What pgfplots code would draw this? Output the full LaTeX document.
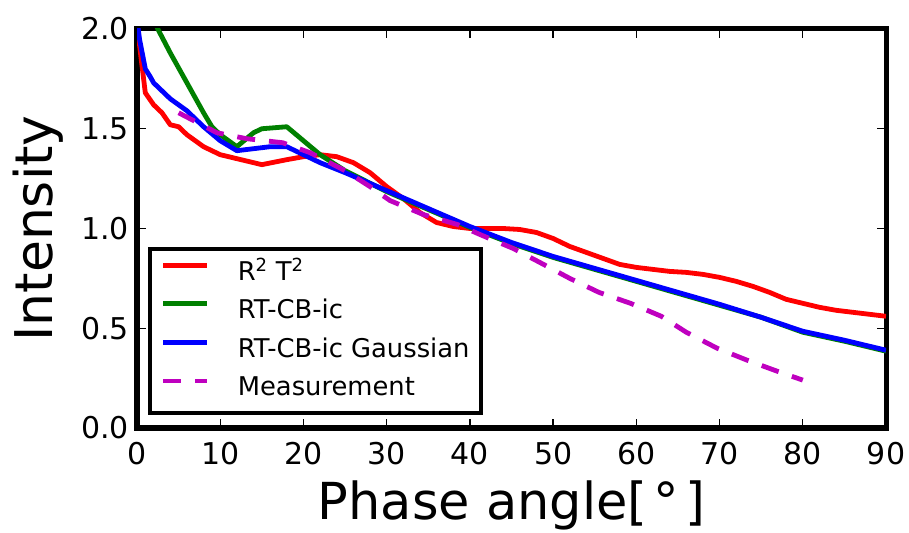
\documentclass[border=0pt]{standalone}
\usepackage{fontspec}
\setmainfont{DejaVu Sans}
\usepackage{pgfplots}
\pgfplotsset{compat=1.18}
\definecolor{mred}{rgb}{1,0,0}
\definecolor{mgreen}{rgb}{0,0.5,0}
\definecolor{mblue}{rgb}{0,0,1}
\definecolor{mmag}{rgb}{0.75,0,0.75}
\begin{document}
\begin{tikzpicture}
\useasboundingbox (0,0) rectangle (909bp,533bp);
\begin{axis}[
  at={(137bp,105bp)}, anchor=south west,
  scale only axis, width=749bp, height=399bp,
  xmin=0, xmax=90, ymin=0, ymax=2,
  xtick={0,10,...,90},
  xticklabels={0,10,20,30,40,50,60,70,80,90},
  ytick={0,0.5,1,1.5,2},
  yticklabels={0.0,0.5,1.0,1.5,2.0},
  tick align=inside,
  major tick length=9bp,
  every tick/.style={black, line width=1.3bp},
  axis line style={line width=5bp, black},
  ticklabel style={font=\fontsize{30bp}{36bp}\selectfont},
  xticklabel style={anchor=base, yshift=-36bp, inner sep=0bp},
  yticklabel style={anchor=east, xshift=-8bp, inner sep=0bp},
  every axis x label/.style={at={([yshift=-91bp]rel axis cs:0.5,0)}, anchor=base, font=\fontsize{51bp}{60bp}\selectfont},
  every axis y label/.style={at={([xshift=-84bp]rel axis cs:0,0.5)}, rotate=90, anchor=base, font=\fontsize{52bp}{60bp}\selectfont},
  xlabel={Phase angle[\hspace{0.12em}°\hspace{0.12em}]},
  ylabel={Intensity},
  legend cell align=left,
  legend image code/.code={\draw[#1] (0bp,8bp) -- (44bp,8bp);},
  legend style={at={(0.0147,0.0326)}, anchor=south west, draw=black, line width=4bp, fill=white,
    font=\fontsize{25.8bp}{30bp}\selectfont,
    inner xsep=11bp, inner ysep=12bp,
    nodes={inner sep=0bp, text height=19bp, text depth=5bp},
    row sep=14.6bp, column sep=28bp},
]
\addplot[mred, line width=4.8bp, line join=round] coordinates {
(0,2.03) (0.5,1.85) (1,1.68) (2,1.62) (3,1.58) (4,1.52) (5,1.51) (6,1.47) (8,1.41)
(10,1.37) (12,1.35) (15,1.32) (18,1.345) (20,1.36) (22,1.37) (24,1.36) (26,1.33)
(28,1.28) (30,1.21) (32,1.15) (34,1.08) (36,1.03) (38,1.01) (40,1.0) (42,1.0)
(44,1.0) (46,0.995) (48,0.98) (50,0.95) (52,0.91) (54,0.88) (56,0.85) (58,0.82)
(60,0.805) (62,0.795) (64,0.785) (66,0.78) (68,0.77) (70,0.755) (72,0.735)
(74,0.71) (76,0.68) (78,0.645) (80,0.625) (82,0.605) (84,0.59) (86,0.58)
(88,0.57) (90,0.56)};
\addlegendentry{R\textsuperscript{2} T\textsuperscript{2}}
\addplot[mgreen, line width=4.8bp, line join=round] coordinates {
(0,2.25) (2.5,2.0) (4,1.88) (6,1.73) (8,1.58) (9,1.51) (10,1.47) (12,1.41)
(14,1.48) (15,1.50) (18,1.51) (20,1.44) (22,1.37) (25,1.29) (30,1.185)
(35,1.095) (40,1.005) (45,0.925) (50,0.855) (55,0.795) (60,0.735) (65,0.675)
(70,0.615) (75,0.555) (80,0.48) (85,0.435) (90,0.385)};
\addlegendentry{RT-CB-ic}
\addplot[mblue, line width=4.8bp, line join=round] coordinates {
(0,2.05) (0.3,1.95) (1,1.80) (1.6,1.76) (2,1.73) (3,1.69) (4,1.65) (6,1.59)
(8,1.51) (10,1.44) (12,1.39) (14,1.40) (16,1.41) (18,1.41) (20,1.37) (22,1.33)
(25,1.28) (30,1.19) (35,1.10) (40,1.01) (45,0.93) (50,0.86) (55,0.80) (60,0.74)
(65,0.68) (70,0.62) (75,0.555) (80,0.485) (85,0.44) (90,0.39)};
\addlegendentry{RT-CB-ic Gaussian}
\addplot[mmag, line width=4.8bp, dash pattern=on 18bp off 14bp] coordinates {
(5,1.58) (9.6,1.48) (13.2,1.45) (17.5,1.43) (20.8,1.38) (25,1.29) (28,1.21)
(30.4,1.14) (34.4,1.07) (38.5,1.02) (41.2,0.97) (45.2,0.90) (48.4,0.83) (52,0.75)
(55.5,0.68) (59.3,0.625) (63,0.56) (66,0.48) (69.7,0.40) (73.3,0.34) (76.9,0.285)
(80,0.24)};
\addlegendentry{Measurement}
\end{axis}
\end{tikzpicture}
\end{document}
